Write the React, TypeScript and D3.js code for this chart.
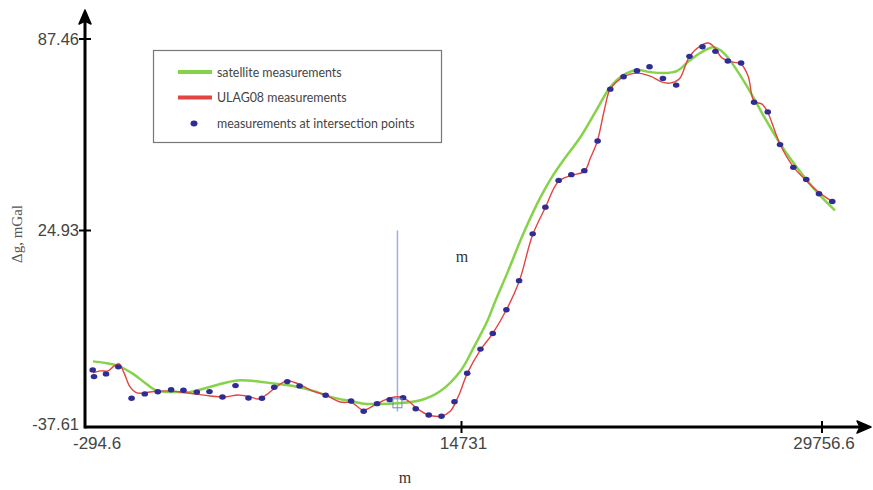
import React from "react";
import * as d3 from "d3";

// ---- Data ----
const xTicks = [-294.6, 14731, 29756.6];
const yTicks = [-37.61, 24.93, 87.46];

// satellite measurements (green)
const satX = [25, 505, 1024, 1624, 2103, 2583, 3302, 3901, 4821, 5780, 6979, 8018, 8817, 9616, 10295, 10815, 11494, 12174, 13092, 13892, 14691, 15230, 15813, 16146, 16646, 17311, 18019, 18518, 18976, 19684, 20308, 20932, 21473, 22056, 22597, 23138, 23721, 24262, 24678, 25219, 25510, 25802, 26343, 26884, 27425, 28008, 28549, 29132, 29673, 30297];
const satY = [-17.81, -18.3, -19.28, -21.9, -24.84, -27.46, -27.79, -27.79, -25.83, -24.03, -24.75, -25.83, -27.46, -29.66, -30.74, -31.62, -31.72, -31.49, -30.51, -27.46, -20.92, -13.39, -4.54, 2.0, 11.17, 23.94, 35.73, 42.6, 47.84, 55.37, 63.56, 71.74, 75.67, 77.31, 76.65, 76.33, 77.08, 80.58, 82.88, 84.74, 83.86, 81.66, 75.67, 68.57, 60.94, 53.31, 47.19, 41.29, 36.38, 31.47];

// ULAG08 measurements (red)
const ulagX = [25, 305, 625, 824, 1064, 1264, 1504, 1783, 2303, 2902, 3502, 4101, 4701, 5300, 5819, 6299, 6619, 6938, 7338, 7778, 8217, 8776, 9296, 9896, 10375, 10815, 11335, 11894, 12293, 12613, 12933, 13412, 13932, 14291, 14611, 14981, 15522, 16021, 16604, 17145, 17686, 18227, 18768, 19309, 19850, 20100, 20391, 20683, 20932, 21473, 22056, 22597, 23096, 23429, 23804, 24220, 24678, 25011, 25261, 25594, 26052, 26385, 26676, 26926, 27259, 27509, 28008, 28549, 29090, 29631, 30172];
const ulagY = [-21.57, -20.92, -20.92, -19.61, -18.62, -21.57, -26.15, -28.12, -27.79, -27.46, -27.79, -28.45, -29.1, -29.43, -28.78, -29.43, -30.08, -28.78, -26.15, -24.19, -25.17, -27.46, -28.78, -31.07, -31.4, -33.69, -31.73, -29.75, -29.43, -30.74, -33.03, -35.32, -35.65, -34.01, -29.1, -21.57, -14.04, -8.8, -0.94, 8.55, 23.29, 32.45, 40.97, 42.93, 44.24, 48.5, 54.06, 64.21, 71.09, 75.02, 76.33, 75.35, 73.38, 73.05, 74.36, 81.57, 85.17, 86.15, 84.84, 81.24, 79.93, 79.27, 75.35, 67.16, 66.18, 63.23, 53.08, 45.88, 41.29, 37.37, 34.42];

// measurements at intersection points (blue dots)
const ptX = [13, 65, 545, 1036, 1564, 2091, 2611, 3142, 3634, 4169, 4673, 5192, 5712, 6231, 6767, 7258, 7778, 8269, 9308, 10323, 10827, 11362, 11866, 12401, 12905, 13424, 13932, 14451, 14968, 15522, 16034, 16604, 17132, 17698, 18227, 18781, 19309, 19850, 20404, 20932, 21486, 22044, 22568, 23126, 23679, 24233, 24774, 25315, 25831, 26385, 26926, 27496, 28008, 28561, 29102, 29631, 30185];
const ptY = [-20.59, -22.78, -21.9, -19.6, -29.85, -28.44, -27.72, -27.07, -27.23, -27.85, -27.69, -29.43, -25.73, -29.75, -29.85, -26.25, -24.42, -25.82, -28.87, -30.74, -34.11, -31.62, -30.31, -29.66, -33.26, -35.32, -35.75, -30.97, -21.67, -13.81, -8.7, -0.94, 8.55, 23.84, 32.55, 41.29, 43.16, 44.47, 54.16, 71.09, 75.12, 77.08, 78.39, 74.59, 72.4, 81.8, 84.94, 83.43, 80.26, 79.6, 66.83, 63.66, 52.98, 45.55, 41.62, 36.94, 34.42];

// marker (vertical line + square)
const markerX = 12174;
const markerYTop = 24.93;
const markerYBottom = -34.2;
const markerSquareY = -31.5;

const legendItems = ["satellite measurements", "ULAG08 measurements", "measurements at intersection points"];

export default function App() {
  const W = 873;
  const H = 490;
  const x = d3.scaleLinear().domain(xTicks).range([85, 461.5, 822]);
  const y = d3.scaleLinear().domain(yTicks).range([422, 230.5, 39]);
  const axisY = 427;
  const axisX = 85;

  const lineGen = (xs: number[], ys: number[]) =>
    d3
      .line<number>()
      .x((_, i) => x(xs[i]))
      .y((_, i) => y(ys[i]))
      .curve(d3.curveCatmullRom.alpha(0.5))(xs.map((_, i) => i)) || "";

  const sans = "'Liberation Sans', Arial, sans-serif";
  const serif = "'Liberation Serif', 'DejaVu Serif', serif";
  const tickColor = "#444";

  const mx = x(markerX);

  return (
    <svg width={W} height={H} style={{ position: "absolute", left: 0, top: 0, background: "#fff" }}>
      {/* marker line */}
      <line x1={mx} x2={mx} y1={y(markerYTop)} y2={y(markerYBottom)} stroke="#9fb0dc" strokeWidth={1.5} />

      {/* satellite */}
      <path d={lineGen(satX, satY)} fill="none" stroke="#86d24a" strokeWidth={2.5} strokeLinejoin="round" />
      {/* ULAG08 */}
      <path d={lineGen(ulagX, ulagY)} fill="none" stroke="#e2443f" strokeWidth={1.4} strokeLinejoin="round" />
      {/* dots */}
      {ptX.map((v, i) => (
        <ellipse key={i} cx={x(v)} cy={y(ptY[i])} rx={3.3} ry={2.7} fill="#2f2c93" />
      ))}
      {/* marker square */}
      <rect x={mx - 4.5} y={y(markerSquareY) - 4.5} width={9} height={9} fill="none" stroke="#7187bd" strokeWidth={1} />

      {/* axes */}
      <line x1={axisX} x2={866} y1={axisY} y2={axisY} stroke="#000" strokeWidth={3} />
      <path d={`M871,${axisY} L857,${axisY - 6} L860,${axisY} L857,${axisY + 6} Z`} fill="#000" stroke="#000" strokeWidth={1.5} strokeLinejoin="round" />
      <line x1={axisX} x2={axisX} y1={axisY + 1.5} y2={16} stroke="#000" strokeWidth={3} />
      <path d={`M${axisX},10 L${axisX - 6},24 L${axisX},21 L${axisX + 6},24 Z`} fill="#000" stroke="#000" strokeWidth={1.5} strokeLinejoin="round" />

      {/* y ticks */}
      {yTicks.map((t, i) => (
        <g key={"yt" + i}>
          {i > 0 && <line x1={axisX - 6} x2={axisX + 6} y1={y(t)} y2={y(t)} stroke="#000" strokeWidth={2} />}
          <text x={axisX - 6} y={i === 0 ? y(t) + 2 : y(t)} dy="0.35em" textAnchor="end" fontFamily={sans} fontSize={16.5} fill={tickColor}>
            {t.toFixed(2)}
          </text>
        </g>
      ))}

      {/* x ticks */}
      {xTicks.map((t, i) => (
        <g key={"xt" + i}>
          {i > 0 && <line x1={x(t)} x2={x(t)} y1={axisY - 6} y2={axisY + 6} stroke="#000" strokeWidth={2} />}
          <text
            x={i === 0 ? x(t) - 12 : x(t) + 2}
            y={axisY + 16}
            dy="0.35em"
            textAnchor={i === 0 ? "start" : "middle"}
            fontFamily={sans}
            fontSize={17}
            fill={tickColor}
          >
            {String(t)}
          </text>
        </g>
      ))}

      {/* axis titles */}
      <text x={405} y={483} textAnchor="middle" fontFamily={serif} fontSize={16} fill="#333">m</text>
      <text x={462} y={262} textAnchor="middle" fontFamily={serif} fontSize={16} fill="#333">m</text>
      <text transform="translate(22,234) rotate(-90)" textAnchor="middle" fontFamily={serif} fontSize={15} fill="#555">Δg, mGal</text>

      {/* legend */}
      <rect x={153.5} y={50.5} width={288} height={92} fill="#fff" stroke="#777" strokeWidth={1.2} />
      <line x1={178} x2={212} y1={72} y2={72} stroke="#86d24a" strokeWidth={4} />
      <line x1={178} x2={212} y1={97.5} y2={97.5} stroke="#e2443f" strokeWidth={4} />
      <ellipse cx={194} cy={123.5} rx={3.5} ry={3} fill="#2f2c93" />
      {legendItems.map((s, i) => (
        <text key={s} x={217} y={[73, 98, 124][i]} dy="0.35em" fontFamily="Lato, 'Open Sans', sans-serif" fontSize={12.4} fill="#444">
          {s}
        </text>
      ))}
    </svg>
  );
}
